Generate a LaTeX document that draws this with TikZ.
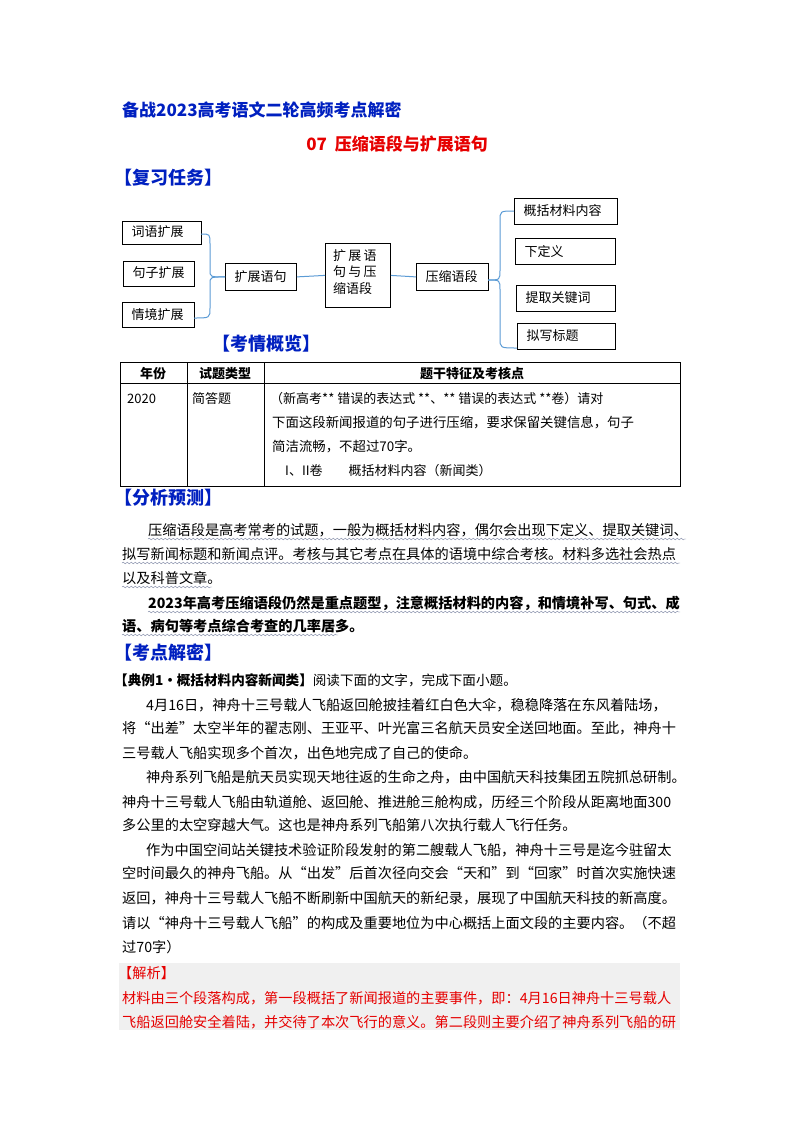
\documentclass[tikz,border=0pt]{standalone}
\usepackage{fontspec}
\setmainfont{Noto Sans CJK SC}
\usetikzlibrary{decorations.pathmorphing}
\definecolor{tblue}{RGB}{0,32,192}
\definecolor{lblue}{RGB}{91,155,213}
\definecolor{tred}{RGB}{230,0,0}
\definecolor{wavy}{RGB}{120,130,160}
\begin{document}
\begin{tikzpicture}[x=1pt,y=-1pt,
 body/.style={anchor=base west,inner sep=0pt,font=\fontsize{14.2}{16}\selectfont},
 bbody/.style={body,font=\fontsize{14.2}{16}\selectfont\bfseries},
 head/.style={anchor=base west,inner sep=0pt,text=tblue,font=\fontsize{18}{20}\selectfont\bfseries},
 box/.style={draw,line width=0.8pt,anchor=north west,inner sep=0pt,font=\fontsize{13}{15}\selectfont},
 conn/.style={lblue,line width=1pt},
 wv/.style={wavy,line width=0.4pt,decorate,decoration={snake,amplitude=0.8pt,segment length=4pt}}]
\useasboundingbox (0,0) rectangle (800,1132);
\fill[white] (0,0) rectangle (800,1132);
% titles
\node[anchor=base west,inner sep=0pt,text=tblue,font=\fontsize{17}{19}\selectfont\bfseries] (t1) at (122,116) {备战2023高考语文二轮高频考点解密};
\node[anchor=base,inner sep=0pt,text=tred,font=\fontsize{17}{19}\selectfont\bfseries] (t2) at (397,150) {07\ \ 压缩语段与扩展语句};
\node[head] (h1) at (114,184) {【复习任务】};
% boxes
\node[box,minimum width=79,minimum height=23] (b1) at (122,221) {};
\node[anchor=west,font=\fontsize{13}{15}\selectfont] at (128,232) {词语扩展};
\node[box,minimum width=71,minimum height=25] (b2) at (123,261) {};
\node[anchor=west,font=\fontsize{13}{15}\selectfont] at (129,273) {句子扩展};
\node[box,minimum width=72,minimum height=25] (b3) at (122,302) {};
\node[anchor=west,font=\fontsize{13}{15}\selectfont] at (128,315) {情境扩展};
\node[box,minimum width=71,minimum height=27] (b4) at (225,263) {};
\node[anchor=west,font=\fontsize{13}{15}\selectfont] at (231,277) {扩展语句};
\node[box,minimum width=65,minimum height=64] (b5) at (325,243) {};
\node[anchor=north west,inner sep=0pt,align=left,font=\fontsize{13}{16.5}\selectfont] at (333,249) {扩\,展\,语\\句\,与\,压\\缩语段};
\node[box,minimum width=72,minimum height=27] (b6) at (416,263) {};
\node[anchor=west,font=\fontsize{13}{15}\selectfont] at (422,277) {压缩语段};
\node[box,minimum width=103,minimum height=26] (r1) at (514,198) {};
\node[anchor=west,font=\fontsize{13}{15}\selectfont] at (520,211) {概括材料内容};
\node[box,minimum width=100,minimum height=26] (r2) at (515,238) {};
\node[anchor=west,font=\fontsize{13}{15}\selectfont] at (521,252) {下定义};
\node[box,minimum width=99,minimum height=26] (r3) at (516,285) {};
\node[anchor=west,font=\fontsize{13}{15}\selectfont] at (522,298) {提取关键词};
\node[box,minimum width=98,minimum height=26] (r4) at (517,323) {};
\node[anchor=west,font=\fontsize{13}{15}\selectfont] at (523,336) {拟写标题};
% connectors
\coordinate (lt) at (201,234);
\coordinate (lb) at (194,318);
\coordinate (rt) at (514,211);
\coordinate (rb) at (517,348);
\draw[conn] (lt) .. controls (210,234) .. (210,244) -- (210,270) .. controls (210,277) .. (b4.west);
\draw[conn] (lb) .. controls (210,318) .. (210,308) -- (210,284) .. controls (210,277) .. (b4.west);
\draw[conn] (b4.east) -- (b5.west);
\draw[conn] (b5.east) -- (b6.west);
\draw[conn] (488,280) .. controls (500,280) .. (500,270) -- (500,221) .. controls (500,211) .. (rt);
\draw[conn] (488,280) .. controls (500,280) .. (500,290) -- (500,338) .. controls (500,348) .. (rb);
% 考情概览
\node[head] (h2) at (212,350) {【考情概览】};
\draw[line width=0.8pt] (120,362) rectangle (680,486);
\draw[line width=0.6pt] (120,383) -- (680,383) (187,362) -- (187,486) (264,362) -- (264,486);
\node[anchor=base,font=\fontsize{13}{15}\selectfont\bfseries] at (153,378) {年份};
\node[anchor=base,font=\fontsize{13}{15}\selectfont\bfseries] at (225,378) {试题类型};
\node[anchor=base,font=\fontsize{13}{15}\selectfont\bfseries] at (472,378) {题干特征及考核点};
\node[anchor=base west,font=\fontsize{13}{15}\selectfont,inner sep=0pt] at (127,403) {2020};
\node[anchor=base west,font=\fontsize{13}{15}\selectfont,inner sep=0pt] at (192,403) {简答题};
\node[anchor=base west,font=\fontsize{13}{15}\selectfont,inner sep=0pt] at (270,403) {（新高考** 错误的表达式 **、** 错误的表达式 **卷）请对};
\node[anchor=base west,font=\fontsize{13.4}{15}\selectfont,inner sep=0pt] at (272,427) {下面这段新闻报道的句子进行压缩，要求保留关键信息，句子};
\node[anchor=base west,font=\fontsize{13.4}{15}\selectfont,inner sep=0pt] at (272,451) {简洁流畅，不超过70字。};
\node[anchor=base west,font=\fontsize{13}{15}\selectfont,inner sep=0pt] at (285,475) {I、II卷\qquad 概括材料内容（新闻类）};
% 分析预测
\node[head] (h3) at (114,504) {【分析预测】};
\node[body] at (148,535) {压缩语段是高考常考的试题，一般为概括材料内容，偶尔会出现下定义、提取关键词、};
\node[body] at (122,559) {拟写新闻标题和新闻点评。考核与其它考点在具体的语境中综合考核。材料多选社会热点};
\node[body] at (122,583) {以及科普文章。};
\node[bbody] at (148,608) {2023年高考压缩语段仍然是重点题型，注意概括材料的内容，和情境补写、句式、成};
\node[bbody] at (122,631) {语、病句等考点综合考查的几率居多。};
\draw[wv] (148,539) -- (686,539);
\draw[wv] (122,563) -- (680,563);
\draw[wv] (122,587) -- (212,587);
\draw[wv] (148,612) -- (680,612);
\draw[wv] (122,635) -- (338,635);
% 考点解密
\node[head] (h4) at (114,659) {【考点解密】};
\node[anchor=base west,inner sep=0pt,font=\fontsize{13.6}{15}\selectfont] at (114,685) {\textbf{【典例1·概括材料内容新闻类】}阅读下面的文字，完成下面小题。};
\node[body] at (146,710) {4月16日，神舟十三号载人飞船返回舱披挂着红白色大伞，稳稳降落在东风着陆场，};
\node[body] at (122,733) {将“出差”太空半年的翟志刚、王亚平、叶光富三名航天员安全送回地面。至此，神舟十};
\node[body] at (122,758) {三号载人飞船实现多个首次，出色地完成了自己的使命。};
\node[body] at (146,782) {神舟系列飞船是航天员实现天地往返的生命之舟，由中国航天科技集团五院抓总研制。};
\node[body] at (122,807) {神舟十三号载人飞船由轨道舱、返回舱、推进舱三舱构成，历经三个阶段从距离地面300};
\node[body] at (122,830) {多公里的太空穿越大气。这也是神舟系列飞船第八次执行载人飞行任务。};
\node[body] at (146,855) {作为中国空间站关键技术验证阶段发射的第二艘载人飞船，神舟十三号是迄今驻留太};
\node[body] at (122,878) {空时间最久的神舟飞船。从“出发”后首次径向交会“天和”到“回家”时首次实施快速};
\node[body] at (122,903) {返回，神舟十三号载人飞船不断刷新中国航天的新纪录，展现了中国航天科技的新高度。};
\node[body] at (122,928) {请以“神舟十三号载人飞船”的构成及重要地位为中心概括上面文段的主要内容。（不超};
\node[body] at (122,952) {过70字）};
% 解析
\fill[black!6] (119,963) rectangle (680,1030);
\node[anchor=base west,inner sep=0pt,text=tred,font=\fontsize{14.2}{16}\selectfont] at (118,978) {【解析】};
\node[body,text=tred] at (122,1003) {材料由三个段落构成，第一段概括了新闻报道的主要事件，即：4月16日神舟十三号载人};
\node[body,text=tred] at (122,1027) {飞船返回舱安全着陆，并交待了本次飞行的意义。第二段则主要介绍了神舟系列飞船的研};
\end{tikzpicture}
\end{document}
